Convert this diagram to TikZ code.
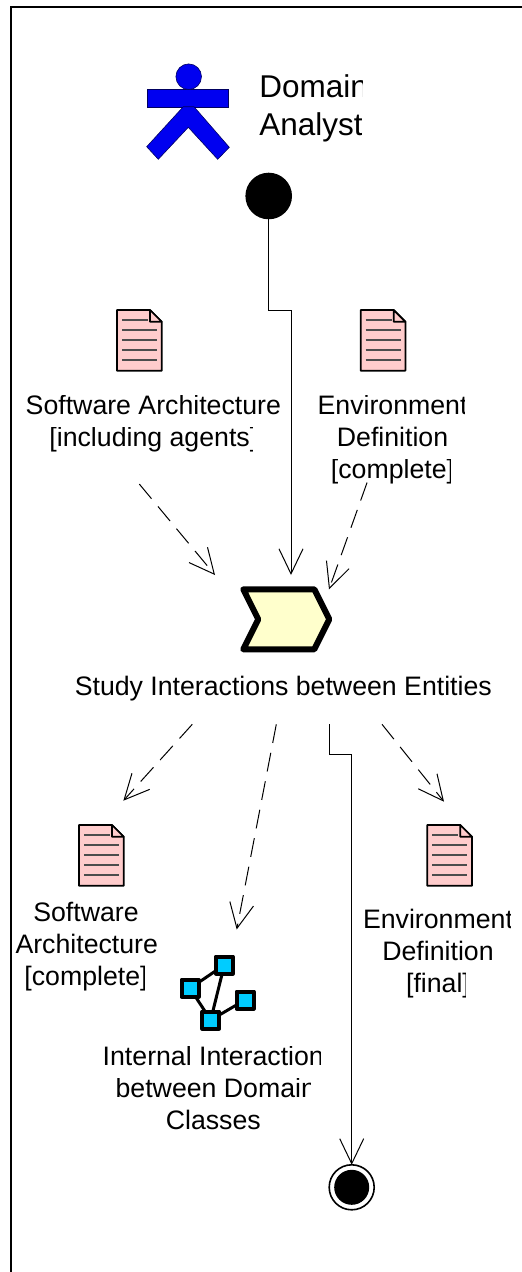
\documentclass[tikz,border=0pt]{standalone}
\usepackage{fontspec}
\usepackage{trimclip}
\setmainfont{Liberation Sans}
\usetikzlibrary{calc,positioning,arrows.meta,shapes.symbols}
\definecolor{docpink}{HTML}{FFCCCC}
\definecolor{taskyellow}{HTML}{FFFFCC}
\definecolor{netcyan}{HTML}{00CCFF}
\definecolor{actorblue}{HTML}{0000F0}
\newcommand{\cutr}[2][2.5pt]{\clipbox{0pt 0pt #1 0pt}{#2}\hspace*{#1}}
\tikzset{
  docicon/.pic={
    \draw[line width=1.7pt, fill=docpink, line join=round]
      (0,0) -- (33,0) -- (44.7,11.7) -- (44.7,60.7) -- (0,60.7) -- cycle;
    \draw[line width=1.7pt, fill=docpink, line join=round] (33,0) -- (33,11.7) -- (44.7,11.7) -- cycle;
    \draw[docline] (5,10) -- (31,10);
    \foreach \y in {20,30,40,50} {
      \draw[docline] (5,\y) -- (40,\y);
    }
    \coordinate (-south) at (22.35,60.7);
  }
}

\begin{document}
\begin{tikzpicture}[
        x=1pt, y=-1pt,
        node distance=23pt,
        lbl/.style={align=center, inner sep=0pt, outer sep=0pt, font=\fontsize{26.7}{32}\selectfont},
        docline/.style={line width=1.3pt, draw=black!70},
        actorpart/.style={draw=black!60!actorblue, line width=0.6pt, fill=actorblue},
        taskbox/.style={draw, signal, signal to=east, signal from=west, signal pointer angle=126.9,
          line width=6pt, line join=round, fill=taskyellow, minimum width=86pt, minimum height=60pt,
          inner sep=0pt, outer sep=0pt},
        netbox/.style={draw, line width=4pt, fill=netcyan, minimum size=17pt, inner sep=0pt, outer sep=0pt, line join=round},
        netline/.style={line width=3pt},
        flow/.style={-{Straight Barb[length=25pt, width=24pt, line width=1pt]}, line width=1pt},
        dep/.style={flow, dash pattern=on 19pt off 10pt},
        startdot/.style={circle, fill=black, minimum size=46.6pt, inner sep=0pt, outer sep=0pt},
        enddot/.style={circle, draw, line width=1.6pt, minimum size=45pt, inner sep=0pt, outer sep=0pt},
    ]
    \useasboundingbox (0,0) rectangle (522,1272);

    % Frame
    \draw[line width=2pt] (11,1272) -- (11,7) -- (522,7);

    % Actor
    \node[actorpart, rectangle, minimum width=81pt, minimum height=18pt, inner sep=0pt] (arms) at (187.3,98) {};
    \fill[actorblue, draw=black!60!actorblue, line width=0.6pt]
      (183.3,106.7) -- (146.7,146.7) -- (158.3,159.3) -- (188.3,127.3)
      -- (217.7,159.3) -- (229.3,147.3) -- (194,106.7) -- cycle;
    \node[actorpart, circle, minimum size=25.6pt, inner sep=0pt] (head) at (188.7,76.7) {};
    \node[align=left, inner sep=0pt, font=\fontsize{31.5}{38}\selectfont, right=31pt of arms, yshift=-10pt] (analyst)
      {\cutr[5pt]{Domain}\\\cutr[1.5pt]{Analyst}};

    % Start and end
    \node[startdot] (start) at (268.7,196) {};
    \node[enddot] (finish) at (351.7,1187.3) {};
    \node[circle, fill=black, minimum size=35pt, inner sep=0pt] (finishin) at (finish) {};

    % Inputs
    \pic (docarch) at (117,310) {docicon};
    \pic (docenv) at (360.7,310) {docicon};
    \node[lbl, below=24.5pt of docarch-south, xshift=14pt] (lblarch)
      {\cutr[1.5pt]{Software Architecture}\\\cutr[4.5pt]{[including agents]}};
    \node[lbl, below=24.5pt of docenv-south, xshift=9.5pt] (lblenv)
      {\cutr{Environment}\\Definition\\\cutr[3.5pt]{[complete]}};

    % Task
    \node[taskbox] (task) at (286.3,619.3) {};
    \node[lbl, below=27pt of task.south, xshift=-3pt] (lbltask) {Study Interactions between Entities};

    % Outputs
    \pic (docfinal) at (79,825) {docicon};
    \pic (docenvf) at (427.3,825) {docicon};
    \node[lbl, below=16pt of docfinal-south, xshift=-15.35pt] (lblfinal)
      {\cutr[1.5pt]{Software}\\\cutr[1.5pt]{Architecture}\\\cutr[3.5pt]{[complete]}};
    \node[lbl, below=23pt of docenvf-south, xshift=-11.65pt] (lblenvf)
      {\cutr{Environment}\\Definition\\\cutr[4.5pt]{[final]}};

    % Interaction net
    \node[netbox] (nettop) at (224.3,965) {};
    \node[netbox] (netleft) at (190,988.3) {};
    \node[netbox] (netright) at (245,1000) {};
    \node[netbox] (netbot) at (210.7,1020) {};
    \draw[netline] (nettop) -- (netleft);
    \draw[netline] (netleft) -- (netbot);
    \draw[netline] (nettop) -- (netbot);
    \draw[netline] (netright) -- (netbot);
    \node[lbl, below=17.5pt of netbot.south, xshift=2.6pt] (lblint)
      {\cutr[3pt]{Internal Interaction}\\\cutr[5pt]{between Domain}\\Classes};

    % Lines
    \coordinate (bendin) at (291,310);
    \coordinate (bendout) at (351.7,754);
    \draw[flow] (start.south) |- (bendin) -- ([shift={(4.7,-14.3)}]task.north);
    \draw[dep] ([shift={(-14,32)}]lblarch.south) -- ([shift={(-71.3,-14.3)}]task.north);
    \draw[dep] ([shift={(-25.5,-1.5)}]lblenv.south) -- ([shift={(42.7,0)}]task.north);
    \draw[dep] ([shift={(-94,75)}]task.south) -- ([shift={(37.35,-101)}]lblfinal.north);
    \draw[dep] ([shift={(-10,75)}]task.south) -- ([shift={(23.4,-116.5)}]lblint.north);
    \draw[dep] ([shift={(95.7,75)}]task.south) -- ([shift={(6,-107)}]lblenvf.north);
    \draw[line width=1pt] ([shift={(42.7,75)}]task.south) |- (bendout);
    \draw[flow] (bendout) -- (finish.north);

\end{tikzpicture}
\end{document}
